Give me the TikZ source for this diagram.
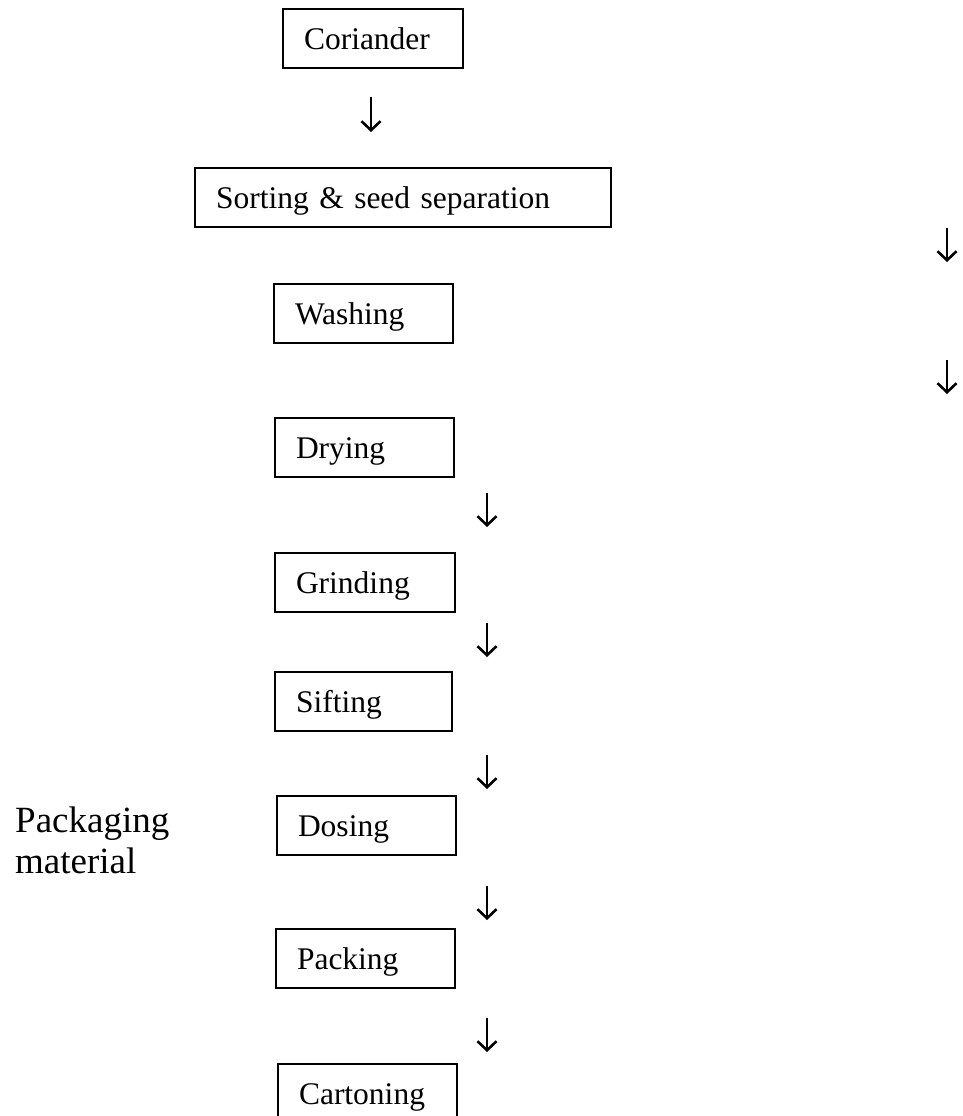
\documentclass[tikz,border=0pt]{standalone}
\usepackage{fontspec}
\setmainfont{Liberation Serif}
\usetikzlibrary{arrows.meta}
\newcommand\boxfont{\fontsize{31.5}{38}\selectfont}
\newcommand\bigfont{\fontsize{37}{41}\selectfont}
\tikzset{
  stepbox/.style={draw, line width=2pt, rectangle, inner xsep=21pt, inner ysep=0pt,
    text height=21pt, text depth=0pt, minimum height=59pt, align=left,
    anchor=north west, font=\boxfont},
  arr/.style={line width=1.8pt, -{Straight Barb[length=9pt,width=19pt,line width=2.6pt]}}
}
\begin{document}
\begin{tikzpicture}[x=1pt,y=-1pt]
\useasboundingbox (0,0) rectangle (962,1116);
\node[stepbox, text width=138pt] (cor) at (282,8) {Coriander};
\node[stepbox, text width=374pt] (sort) at (194,167) {Sorting \& seed separation};
\node[stepbox, text width=137pt] (wash) at (273,283) {Washing};
\node[stepbox, text width=137pt] (dry) at (274,417) {Drying};
\node[stepbox, text width=138pt] (grind) at (274,552) {Grinding};
\node[stepbox, text width=135pt] (sift) at (274,671) {Sifting};
\node[stepbox, text width=137pt] (dose) at (276,795) {Dosing};
\node[stepbox, text width=137pt] (pack) at (275,928) {Packing};
\node[stepbox, text width=137pt] (carton) at (277,1063) {Cartoning};
\node[anchor=base west, align=left, font=\bigfont, inner sep=0pt] (pm) at (15,873) {Packaging\\material};
% free arrows
\coordinate (a1s) at (371,97);  \coordinate (a1e) at (371,132);
\coordinate (a2s) at (947,228); \coordinate (a2e) at (947,262);
\coordinate (a3s) at (947,360); \coordinate (a3e) at (947,394);
\coordinate (a4s) at (487,493); \coordinate (a4e) at (487,527);
\coordinate (a5s) at (487,623); \coordinate (a5e) at (487,657);
\coordinate (a6s) at (487,755); \coordinate (a6e) at (487,789);
\coordinate (a7s) at (487,886); \coordinate (a7e) at (487,920);
\coordinate (a8s) at (487,1018); \coordinate (a8e) at (487,1052);
\foreach \i in {1,...,8} { \draw[arr] (a\i s) -- (a\i e); }
\end{tikzpicture}
\end{document}
